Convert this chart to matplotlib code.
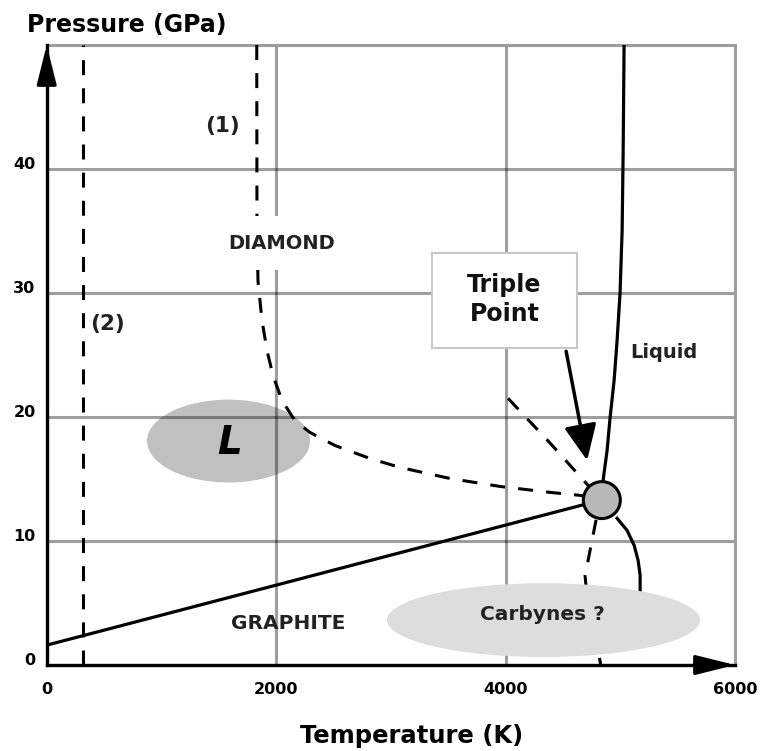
import numpy as np
import matplotlib.pyplot as plt
from matplotlib.patches import Ellipse, Rectangle

# --- Data (T in K, P in GPa) ---
x_ticks = [0, 2000, 4000, 6000]
y_ticks = [0, 10, 20, 30, 40]

# (1) kinetic boundary: vertical at top, bending towards the triple point
line1_T = [1831, 1833, 1842, 1877, 1921, 1973, 2052, 2164, 2296, 2513,
           2819, 3081, 3516, 3952, 4388, 4737]
line1_P = [50.0, 35.0, 30.97, 27.76, 25.34, 23.33, 21.32, 19.71, 18.75, 17.70,
           16.65, 15.93, 15.04, 14.40, 13.92, 13.60]

# (2) vertical dashed line
line2_T = [320, 320]
line2_P = [0, 50]

# graphite / diamond boundary
gd_T = [0, 4710]
gd_P = [1.6, 13.0]

# melting line (liquid)
melt_T = [4839, 4850, 4885, 4911, 4946, 4972, 4998, 5016, 5025, 5033]
melt_P = [13.3, 14.88, 17.30, 19.95, 22.93, 26.15, 30.0, 35.0, 41.4, 50.0]

# solid curve below the triple point
low_T = [4972, 5059, 5121, 5155, 5173, 5173, 5155]
low_P = [11.83, 10.86, 9.65, 8.45, 7.24, 6.03, 4.4]

# dashed curve below the triple point
lowd_T = [4789, 4693, 4720, 4800, 4830]
lowd_P = [11.7, 7.2, 4.5, 1.5, 0.0]

# dashed line from upper left into the triple point
ud_T = [4022, 4388, 4737]
ud_P = [21.5, 17.9, 14.3]

triple_T, triple_P = 4839, 13.3

fig = plt.figure(figsize=(7.64, 7.51), dpi=100)
ax = fig.add_axes([46.7 / 764, 1 - 665 / 751, (735 - 46.7) / 764, (665 - 45) / 751])
ax.set_xlim(0, 6000)
ax.set_ylim(0, 50)

grid_kw = dict(color='k', alpha=0.38, lw=2.2)
ax.set_axisbelow(True)
ax.set_xticks(x_ticks)
ax.set_yticks(y_ticks + [50])
ax.set_yticklabels([str(v) for v in y_ticks] + [''])
ax.grid(True, **grid_kw)
for s in ['top', 'right']:
    ax.spines[s].set_color('#9e9e9e')
    ax.spines[s].set_linewidth(2.2)
for s in ['left', 'bottom']:
    ax.spines[s].set_color('k')
    ax.spines[s].set_linewidth(2.4)
    ax.spines[s].set_zorder(6)
ax.tick_params(length=0, labelsize=11.5)
ax.tick_params(axis='x', pad=12)
ax.tick_params(axis='y', pad=8)
for lab in ax.get_xticklabels() + ax.get_yticklabels():
    lab.set_fontweight('bold')
for lab in ax.get_yticklabels():
    lab.set_verticalalignment('baseline')

# axis arrows
arrow_kw = dict(arrowstyle='-|>,head_length=1.2,head_width=0.3',
                mutation_scale=20, color='k', lw=2.4, shrinkA=0, shrinkB=0)
ax.annotate('', xy=(0, 1.0), xytext=(0, 0.94), xycoords='axes fraction',
            arrowprops=arrow_kw, zorder=7)
ax.annotate('', xy=(1.0, 0), xytext=(0.94, 0), xycoords='axes fraction',
            arrowprops=arrow_kw, zorder=7)

# L region (under grid)
ax.add_patch(Ellipse((1585, 18.06), 1421, 6.68, facecolor='#c0c0c0',
                     edgecolor='none', zorder=0.2))

dash = (0, (4.9, 4.3))
ax.plot(line2_T, line2_P, color='k', lw=2.2, linestyle=dash, zorder=3)
ax.plot(line1_T, line1_P, color='k', lw=2.2, linestyle=dash, zorder=3)
ax.plot(ud_T, ud_P, color='k', lw=2.2, linestyle=dash, zorder=3)
ax.plot(lowd_T, lowd_P, color='k', lw=2.2, linestyle=dash, zorder=3)
ax.plot(gd_T, gd_P, color='k', lw=2.3, zorder=3)
ax.plot(melt_T, melt_P, color='k', lw=2.3, zorder=3)
ax.plot(low_T, low_P, color='k', lw=2.3, zorder=3)

# carbynes region (covers lines below)
ax.add_patch(Ellipse((4331, 3.62), 2729, 5.95, facecolor='#dddddd',
                     edgecolor='none', zorder=4))

# triple point marker
ax.add_patch(Ellipse((triple_T, triple_P), 323, 2.98, facecolor='#b8b8b8',
                     edgecolor='k', lw=2.2, zorder=5))

# triple point label box and arrow
ax.add_patch(Rectangle((3359, 25.6), 1264, 7.6, facecolor='white',
                       edgecolor='#c8c8c8', lw=1.5, zorder=4))
ax.text(3991, 29.5, 'Triple\nPoint', ha='center', va='center', fontsize=17,
        fontweight='bold', linespacing=1.25, color='#111111', zorder=5)
ax.annotate('', xy=(4711, 16.5), xytext=(4528, 25.3),
            arrowprops=dict(arrowstyle='-|>,head_length=1.1,head_width=0.5',
                            mutation_scale=20, color='k', lw=2.5,
                            shrinkA=0, shrinkB=0), zorder=5)

# region labels
txt = dict(ha='center', va='center', fontweight='bold', color='#222222', zorder=6)
ax.text(2051, 34.0, 'DIAMOND', fontsize=14,
        bbox=dict(boxstyle='square,pad=0.9', facecolor='white', edgecolor='none'),
        **txt)
ax.text(2108, 3.38, 'GRAPHITE', fontsize=14.5, **txt)
ax.text(5377, 25.2, 'Liquid', fontsize=14, **txt)
ax.text(4323, 4.1, 'Carbynes ?', fontsize=14.5, **txt)
ax.text(1533, 43.5, '(1)', fontsize=15.5, **txt)
ax.text(534, 27.5, '(2)', fontsize=15.5, **txt)
ax.text(1598, 17.9, 'L', fontsize=28, fontstyle='italic', ha='center',
        va='center', fontweight='bold', color='k', zorder=6)

fig.text(27 / 764, 1 - 32 / 751, 'Pressure (GPa)', fontsize=17,
         fontweight='bold', ha='left', va='baseline')
fig.text(412 / 764, 1 - 743 / 751, 'Temperature (K)', fontsize=17.5,
         fontweight='bold', ha='center', va='baseline')

fig.savefig('out.png', dpi=100)
